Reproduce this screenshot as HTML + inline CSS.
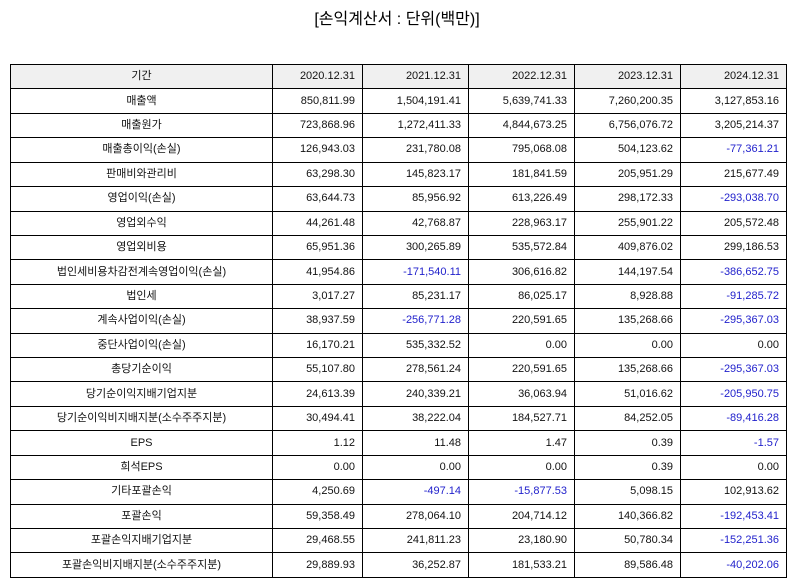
<!DOCTYPE html>
<html><head><meta charset="utf-8"><style>
body{margin:0;width:794px;height:586px;background:#fff;font-family:"Liberation Sans","Noto Sans CJK KR",sans-serif;position:relative;overflow:hidden}
.t{position:absolute;top:5px;left:0;width:794px;text-align:center;font-size:16px;color:#000}
table{position:absolute;left:10px;top:64px;width:776px;height:514px;border-collapse:collapse;table-layout:fixed;font-size:11px;color:#111}
td{border:1.3px solid #000;padding:0 7px;text-align:right;white-space:nowrap;height:18px;line-height:13px}
td:first-child{text-align:center}
tr:first-child td{background:#f0f0f0}
.n{color:#2222cc}
</style></head><body>
<div class="t">[손익계산서 : 단위(백만)]</div>
<table>
<colgroup><col style="width:262px"><col style="width:90px"><col style="width:106px"><col style="width:106px"><col style="width:106px"><col style="width:106px"></colgroup>
<tr><td>기간</td><td>2020.12.31</td><td>2021.12.31</td><td>2022.12.31</td><td>2023.12.31</td><td>2024.12.31</td></tr>
<tr><td>매출액</td><td>850,811.99</td><td>1,504,191.41</td><td>5,639,741.33</td><td>7,260,200.35</td><td>3,127,853.16</td></tr>
<tr><td>매출원가</td><td>723,868.96</td><td>1,272,411.33</td><td>4,844,673.25</td><td>6,756,076.72</td><td>3,205,214.37</td></tr>
<tr><td>매출총이익(손실)</td><td>126,943.03</td><td>231,780.08</td><td>795,068.08</td><td>504,123.62</td><td class="n">-77,361.21</td></tr>
<tr><td>판매비와관리비</td><td>63,298.30</td><td>145,823.17</td><td>181,841.59</td><td>205,951.29</td><td>215,677.49</td></tr>
<tr><td>영업이익(손실)</td><td>63,644.73</td><td>85,956.92</td><td>613,226.49</td><td>298,172.33</td><td class="n">-293,038.70</td></tr>
<tr><td>영업외수익</td><td>44,261.48</td><td>42,768.87</td><td>228,963.17</td><td>255,901.22</td><td>205,572.48</td></tr>
<tr><td>영업외비용</td><td>65,951.36</td><td>300,265.89</td><td>535,572.84</td><td>409,876.02</td><td>299,186.53</td></tr>
<tr><td>법인세비용차감전계속영업이익(손실)</td><td>41,954.86</td><td class="n">-171,540.11</td><td>306,616.82</td><td>144,197.54</td><td class="n">-386,652.75</td></tr>
<tr><td>법인세</td><td>3,017.27</td><td>85,231.17</td><td>86,025.17</td><td>8,928.88</td><td class="n">-91,285.72</td></tr>
<tr><td>계속사업이익(손실)</td><td>38,937.59</td><td class="n">-256,771.28</td><td>220,591.65</td><td>135,268.66</td><td class="n">-295,367.03</td></tr>
<tr><td>중단사업이익(손실)</td><td>16,170.21</td><td>535,332.52</td><td>0.00</td><td>0.00</td><td>0.00</td></tr>
<tr><td>총당기순이익</td><td>55,107.80</td><td>278,561.24</td><td>220,591.65</td><td>135,268.66</td><td class="n">-295,367.03</td></tr>
<tr><td>당기순이익지배기업지분</td><td>24,613.39</td><td>240,339.21</td><td>36,063.94</td><td>51,016.62</td><td class="n">-205,950.75</td></tr>
<tr><td>당기순이익비지배지분(소수주주지분)</td><td>30,494.41</td><td>38,222.04</td><td>184,527.71</td><td>84,252.05</td><td class="n">-89,416.28</td></tr>
<tr><td>EPS</td><td>1.12</td><td>11.48</td><td>1.47</td><td>0.39</td><td class="n">-1.57</td></tr>
<tr><td>희석EPS</td><td>0.00</td><td>0.00</td><td>0.00</td><td>0.39</td><td>0.00</td></tr>
<tr><td>기타포괄손익</td><td>4,250.69</td><td class="n">-497.14</td><td class="n">-15,877.53</td><td>5,098.15</td><td>102,913.62</td></tr>
<tr><td>포괄손익</td><td>59,358.49</td><td>278,064.10</td><td>204,714.12</td><td>140,366.82</td><td class="n">-192,453.41</td></tr>
<tr><td>포괄손익지배기업지분</td><td>29,468.55</td><td>241,811.23</td><td>23,180.90</td><td>50,780.34</td><td class="n">-152,251.36</td></tr>
<tr><td>포괄손익비지배지분(소수주주지분)</td><td>29,889.93</td><td>36,252.87</td><td>181,533.21</td><td>89,586.48</td><td class="n">-40,202.06</td></tr>
</table>
</body></html>
